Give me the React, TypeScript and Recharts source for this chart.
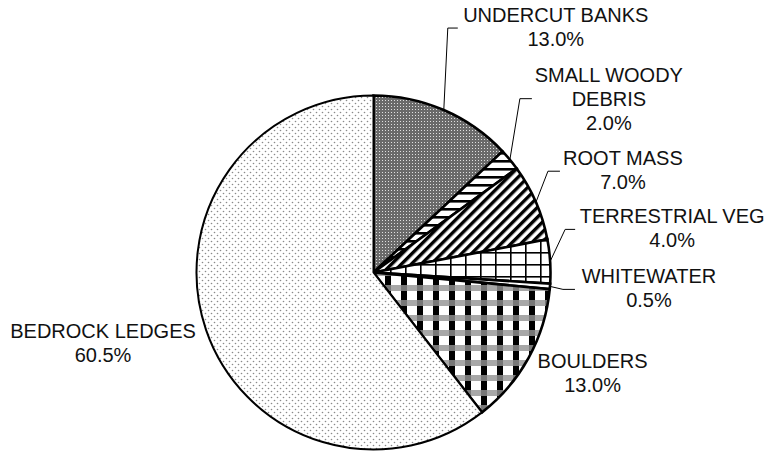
import { PieChart, Pie, Cell } from "recharts";

// habitat share, % of total
const CATEGORIES = [
  "UNDERCUT BANKS",
  "SMALL WOODY DEBRIS",
  "ROOT MASS",
  "TERRESTRIAL VEG",
  "WHITEWATER",
  "BOULDERS",
  "BEDROCK LEDGES",
];
const SHARES = [13.0, 2.0, 7.0, 4.0, 0.5, 13.0, 60.5];
const FILLS = [
  "url(#pUndercut)",
  "url(#pWoody)",
  "url(#pRoot)",
  "url(#pVeg)",
  "#ffffff",
  "url(#pBoulders)",
  "url(#pBedrock)",
];

// label placement relative to the slice's outer edge point (Excel-style, hand placed)
type LabelLayout = {
  dx: number;
  dy: number;
  lines?: string[];
  leader?: { ex: number; ey: number; len: number };
};
const LABEL_LAYOUT: LabelLayout[] = [
  { dx: 112, dy: -88, leader: { ex: 4, ey: -82, len: 10 } },
  { dx: 99, dy: -78, lines: ["SMALL WOODY", "DEBRIS"], leader: { ex: 10, ey: -61, len: 12 } },
  { dx: 87, dy: -37, leader: { ex: 12, ey: -31, len: 12 } },
  { dx: 122, dy: -38, leader: { ex: 15, ey: -32, len: 10 } },
  { dx: 99, dy: -3, leader: { ex: 13, ey: 3, len: 12 } },
  { dx: 64, dy: 10 },
  { dx: -103, dy: 8 },
];

const LINE_H = 24;
const FONT = "'Liberation Sans', Arial, sans-serif";
const RAD = Math.PI / 180;

const data = CATEGORIES.map((name, i) => ({ name, value: SHARES[i] }));

function renderLabel(props: any) {
  const { cx, cy, midAngle, outerRadius, index, value } = props;
  const lay = LABEL_LAYOUT[index];
  const px = cx + outerRadius * Math.cos(-midAngle * RAD);
  const py = cy + outerRadius * Math.sin(-midAngle * RAD);
  const lines = [...(lay.lines ?? [CATEGORIES[index]]), `${Number(value).toFixed(1)}%`];
  const tx = px + lay.dx;
  const ty = py + lay.dy;
  return (
    <g key={`lbl-${index}`}>
      {lay.leader && (
        <polyline
          points={`${px},${py} ${px + lay.leader.ex},${py + lay.leader.ey} ${px + lay.leader.ex + lay.leader.len},${py + lay.leader.ey}`}
          fill="none"
          stroke="#000"
          strokeWidth={1}
        />
      )}
      <text x={tx} y={ty} textAnchor="middle" fontFamily={FONT} fontSize={20} fill="#111">
        {lines.map((l, k) => (
          <tspan key={k} x={tx} y={ty + k * LINE_H}>
            {l}
          </tspan>
        ))}
      </text>
    </g>
  );
}

export default function App() {
  return (
    <div style={{ position: "absolute", left: 0, top: 0, width: 770, height: 455, background: "#fff" }}>
      <svg width={0} height={0} style={{ position: "absolute" }}>
        <defs>
          <pattern id="pUndercut" width={3} height={3} patternUnits="userSpaceOnUse">
            <rect width={3} height={3} fill="#6a6a6a" />
            <rect x={1} y={1} width={1} height={1} fill="#e0e0e0" />
          </pattern>
          <pattern id="pWoody" width={8} height={8} patternUnits="userSpaceOnUse">
            <rect width={8} height={8} fill="#fff" />
            <rect width={8} height={2.6} fill="#000" />
          </pattern>
          <pattern id="pRoot" width={7} height={7} patternUnits="userSpaceOnUse" patternTransform="rotate(-45)">
            <rect width={7} height={7} fill="#fff" />
            <rect width={7} height={3.4} fill="#000" />
          </pattern>
          <pattern id="pVeg" width={15} height={12} patternUnits="userSpaceOnUse">
            <rect width={15} height={12} fill="#fff" />
            <rect width={1.6} height={12} fill="#000" />
            <rect width={15} height={1.6} fill="#000" />
          </pattern>
          <pattern id="pBoulders" width={16} height={15} patternUnits="userSpaceOnUse">
            <rect width={16} height={15} fill="#fff" />
            <rect y={0} width={16} height={6} fill="#a8a8a8" />
            <rect x={1} y={0} width={6} height={6} fill="#777" />
            <rect x={1} y={6} width={6} height={9} fill="#000" />
          </pattern>
          <pattern id="pBedrock" width={6} height={6} patternUnits="userSpaceOnUse">
            <rect width={6} height={6} fill="#fff" />
            <circle cx={1.5} cy={1.5} r={0.8} fill="#8a8a8a" />
            <circle cx={4.5} cy={4.5} r={0.8} fill="#8a8a8a" />
          </pattern>
        </defs>
      </svg>
      <PieChart width={770} height={455} margin={{ top: 0, right: 0, bottom: 0, left: 0 }}>
        <Pie
          data={data}
          dataKey="value"
          nameKey="name"
          cx={373.5}
          cy={272.5}
          outerRadius={177}
          startAngle={90}
          endAngle={-270}
          isAnimationActive={false}
          label={renderLabel}
          labelLine={false}
        >
          {data.map((d, i) => (
            <Cell key={d.name} fill={FILLS[i]} stroke="#000" strokeWidth={i === 6 ? 2 : 2.6} />
          ))}
        </Pie>
      </PieChart>
    </div>
  );
}
